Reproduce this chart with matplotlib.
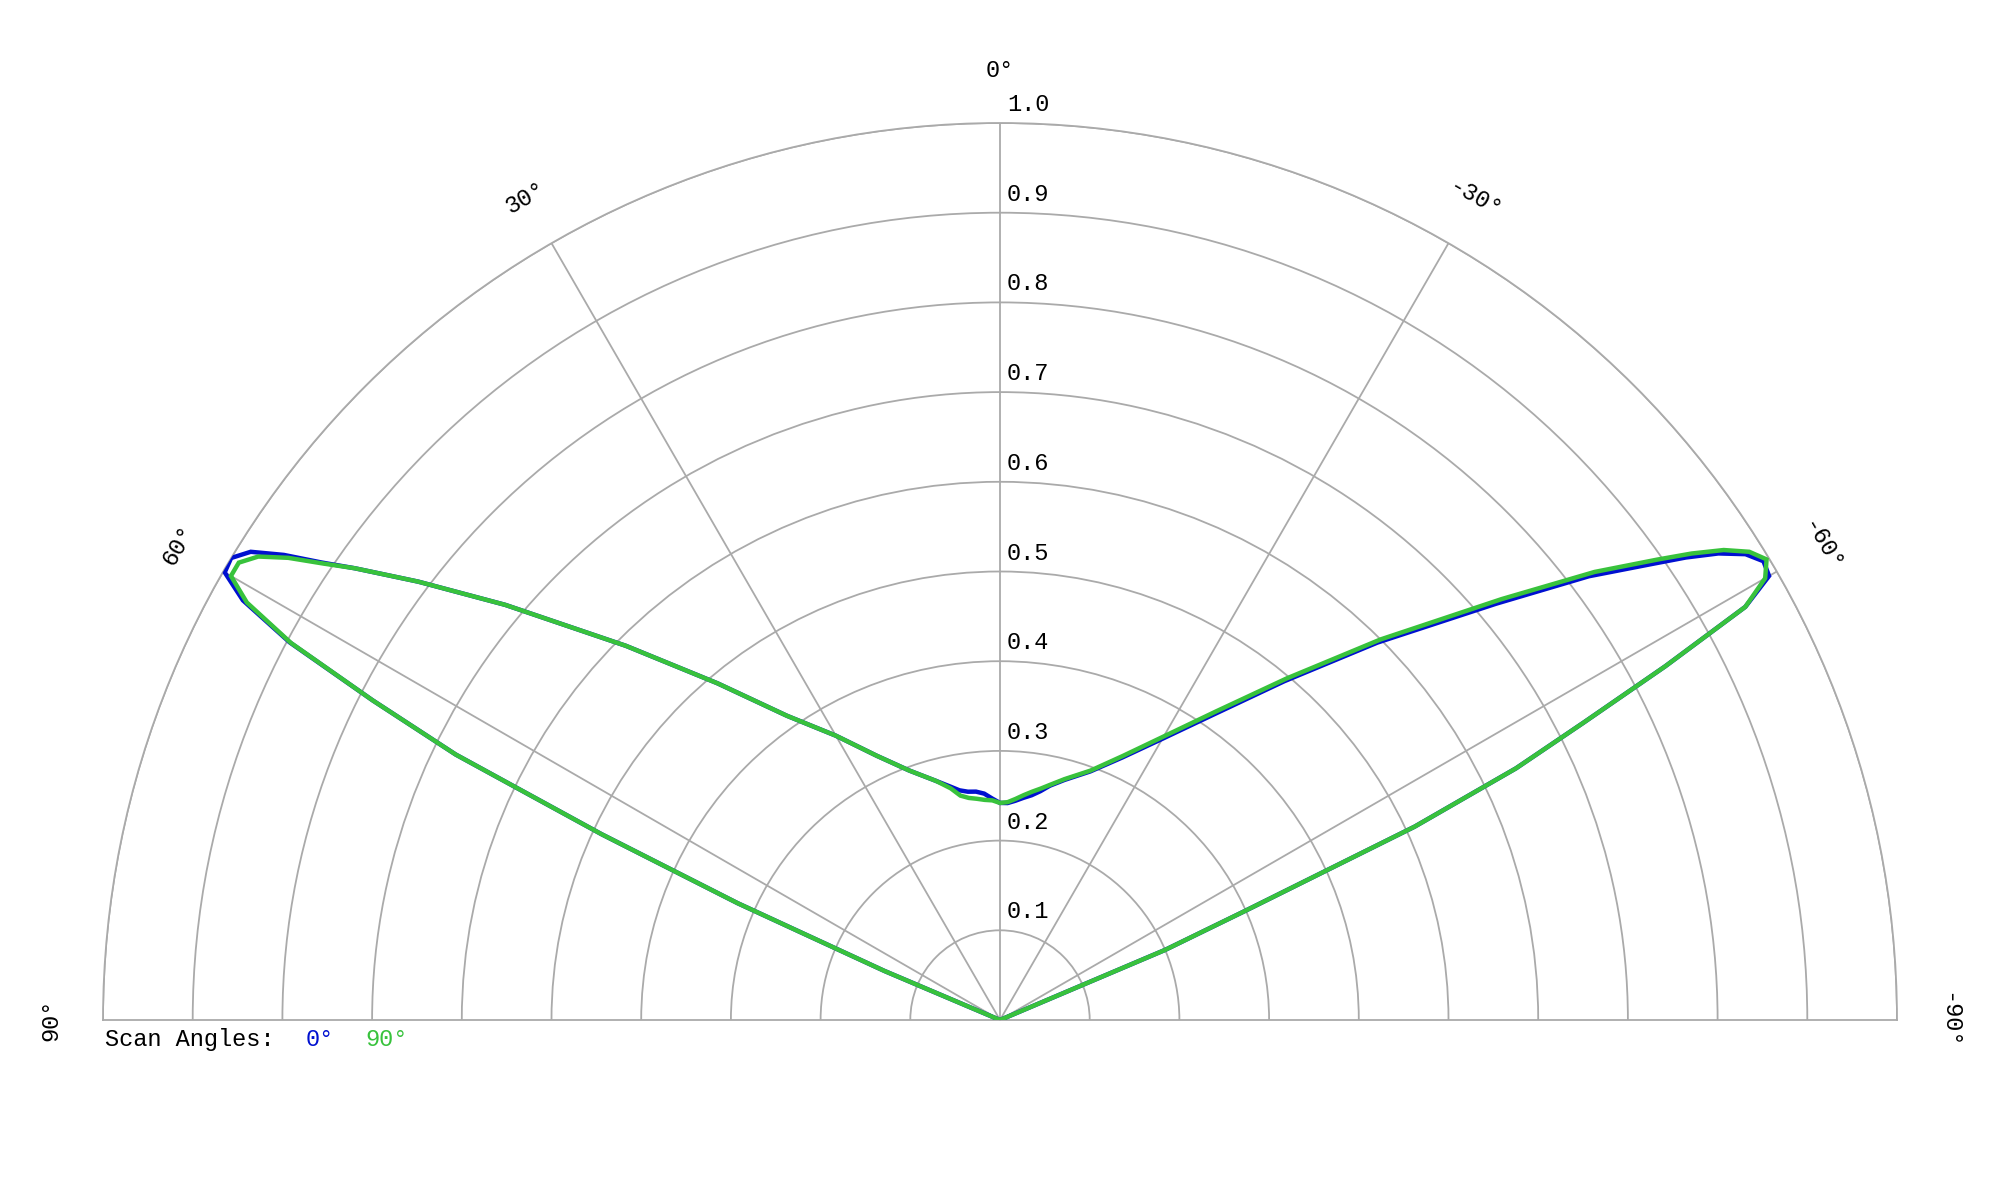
import numpy as np
import matplotlib
matplotlib.use("Agg")
from matplotlib import pyplot as plt
from matplotlib import transforms

# scan angle (deg), positive to the left of broadside
theta_deg = [-90, -80, -70, -68, -67, -66, -65, -64, -63, -62, -61, -60, -59, -58, -57, -56,
             -55, -53, -50, -45, -40, -35, -30, -25, -20, -15, -12, -10, -8, -6, -4, -2,
             0,
             2, 4, 6, 8, 10, 12, 15, 20, 25, 30, 35, 40, 45, 50, 53, 55,
             56, 57, 58, 59, 60, 61, 62, 63, 64, 65, 66, 67, 68, 70, 80, 90]

# normalised pattern, scan angle 0 deg
r_scan0 = [0, 0, 0, 0, 0.20, 0.30, 0.51, 0.64, 0.73, 0.84, 0.95, 0.99, 0.993, 0.98, 0.955, 0.922,
           0.886, 0.822, 0.722, 0.595, 0.493, 0.416, 0.362, 0.323, 0.295, 0.277, 0.267, 0.259, 0.253, 0.249, 0.245, 0.242,
           0.242,
           0.247, 0.253, 0.256, 0.257, 0.260, 0.266, 0.276, 0.296, 0.325, 0.366, 0.414, 0.49, 0.59, 0.72, 0.812, 0.878,
           0.912, 0.952, 0.985, 1.0, 0.998, 0.965, 0.897, 0.785, 0.675, 0.49, 0.32, 0.14, 0, 0, 0, 0]

# normalised pattern, scan angle 90 deg
r_scan90 = [0, 0, 0, 0, 0.20, 0.30, 0.51, 0.64, 0.73, 0.84, 0.95, 0.985, 0.997, 0.985, 0.962, 0.93,
            0.895, 0.83, 0.73, 0.60, 0.497, 0.42, 0.365, 0.325, 0.296, 0.278, 0.268, 0.262, 0.257, 0.252, 0.247, 0.243,
            0.242,
            0.245, 0.246, 0.248, 0.250, 0.254, 0.264, 0.276, 0.296, 0.325, 0.366, 0.414, 0.49, 0.59, 0.72, 0.812, 0.878,
            0.91, 0.946, 0.975, 0.99, 0.99, 0.96, 0.895, 0.785, 0.675, 0.49, 0.32, 0.14, 0, 0, 0, 0]

r_ticks = [0.1, 0.2, 0.3, 0.4, 0.5, 0.6, 0.7, 0.8, 0.9, 1.0]
angle_labels = [90, 60, 30, 0, -30, -60, -90]

blue = '#0010d0'
green = '#38c23c'
grid_c = '#aaaaaa'
mono = 'Liberation Mono'
fs = 17

fig = plt.figure(figsize=(20, 12), dpi=100)
# half-disc: centre at (1000, 1020) px from top-left, radius ~897 px.
# polar wedge is padded to a square, so the centre sits a quarter up the box
side = 2 * 897
ax = fig.add_axes([(1000 - 897) / 2000, (180 - 0.25 * side) / 1200, side / 2000, side / 1200],
                  projection='polar')
ax.set_theta_zero_location('N')
ax.set_thetamin(-90)
ax.set_thetamax(90)
ax.set_ylim(0, 1)
ax.set_rticks(r_ticks)
ax.set_thetagrids([-60, -30, 0, 30, 60])
ax.set_xticklabels([])
ax.set_yticklabels([])
ax.tick_params(length=0)
ax.grid(True, color=grid_c, lw=1.3)
for s in ax.spines.values():
    s.set_color(grid_c)
    s.set_linewidth(1.3)

th = np.radians(theta_deg)
ax.plot(th, r_scan0, color=blue, lw=3.2, solid_joinstyle='miter', zorder=3)
ax.plot(th, r_scan90, color=green, lw=3.2, solid_joinstyle='miter', zorder=4)

# radial labels right of the broadside spoke
off = transforms.offset_copy(ax.transData, fig=fig, x=5, y=5, units='points')
for r in r_ticks:
    ax.text(0, r, '%.1f' % r, transform=off, ha='left', va='bottom',
            fontsize=fs, family=mono, color='black')

# angle labels round the rim
for a in angle_labels:
    ax.text(np.radians(a), 1.058, '%d°' % a, rotation=a, rotation_mode='anchor',
            ha='center', va='center', fontsize=fs, family=mono, clip_on=False)

fig.text(105 / 2000, 1 - 1028 / 1200, 'Scan Angles:', ha='left', va='top', fontsize=fs, family=mono)
fig.text(306 / 2000, 1 - 1028 / 1200, '0°', ha='left', va='top', fontsize=fs, family=mono, color=blue)
fig.text(365 / 2000, 1 - 1028 / 1200, '90°', ha='left', va='top', fontsize=fs, family=mono, color=green)

fig.savefig('out.png', dpi=100)
